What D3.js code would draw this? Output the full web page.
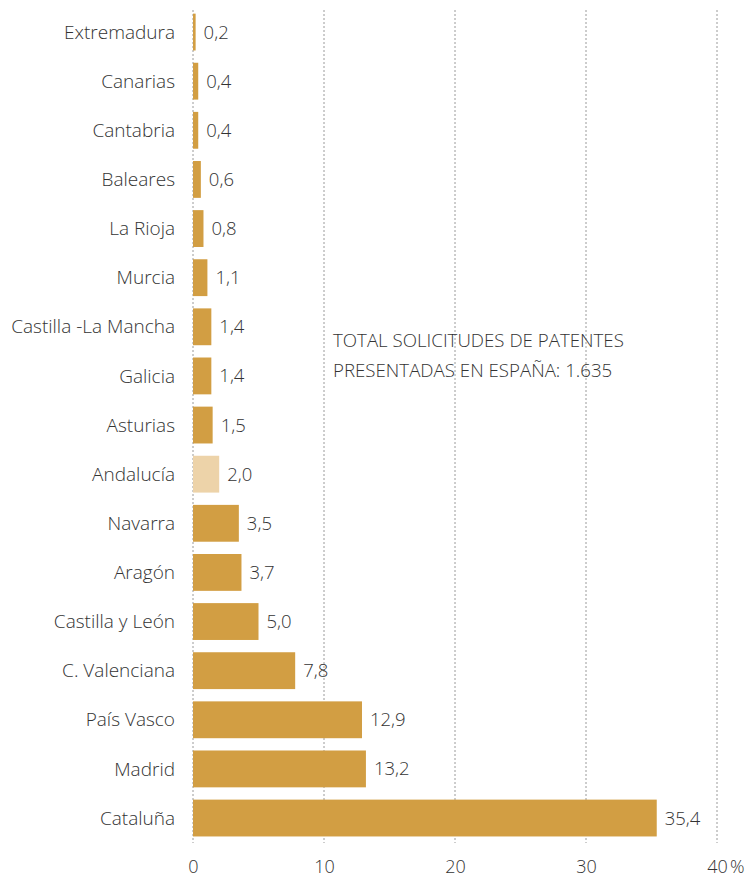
<!DOCTYPE html>
<html><head><meta charset="utf-8">
<script src="https://cdn.jsdelivr.net/npm/d3@7"></script>
<style>body{margin:0;background:#fff;} text{font-family:"Open Sans","Noto Sans",sans-serif;fill:#333;font-weight:300;}</style>
</head><body>
<svg id="c" width="752" height="878"></svg>
<script>
const categories = ["Extremadura","Canarias","Cantabria","Baleares","La Rioja","Murcia","Castilla -La Mancha","Galicia","Asturias","Andalucía","Navarra","Aragón","Castilla y León","C. Valenciana","País Vasco","Madrid","Cataluña"];
const values = [0.2,0.4,0.4,0.6,0.8,1.1,1.4,1.4,1.5,2.0,3.5,3.7,5.0,7.8,12.9,13.2,35.4];
const highlight = ["Andalucía"];
const xTicks = [0,10,20,30,40];
const annotation = ["TOTAL SOLICITUDES DE PATENTES","PRESENTADAS EN ESPAÑA: 1.635"];

const svg = d3.select("#c");
const x = d3.scaleLinear().domain([0,40]).range([193,717]);
const y = d3.scaleBand().domain(categories).range([7.5,842.6]).paddingInner(0.25).paddingOuter(0.125);

// grid
svg.append("g").selectAll("line").data(xTicks).join("line")
  .attr("x1",d=>x(d)).attr("x2",d=>x(d)).attr("y1",10).attr("y2",843)
  .attr("stroke","#9a9a9a").attr("stroke-width",1).attr("stroke-dasharray","2,2");

// bars
svg.append("g").selectAll("rect").data(categories).join("rect")
  .attr("x",x(0)).attr("y",d=>y(d))
  .attr("width",(d,i)=>x(values[i])-x(0)).attr("height",y.bandwidth())
  .attr("fill",d=>highlight.includes(d)?"#EDD3A9":"#D29E43");

// category labels
svg.append("g").selectAll("text").data(categories).join("text")
  .attr("x",175).attr("y",d=>y(d)+y.bandwidth()/2).attr("dy","0.35em")
  .attr("text-anchor","end").attr("font-size",19).text(d=>d);

// value labels
svg.append("g").selectAll("text").data(categories).join("text")
  .attr("x",(d,i)=>x(values[i])+8).attr("y",d=>y(d)+y.bandwidth()/2).attr("dy","0.35em")
  .attr("font-size",18.5).text((d,i)=>d3.format(".1f")(values[i]).replace(".",","));

// axis labels
const ax = d3.axisBottom(x).tickValues(xTicks).tickSize(0).tickPadding(0).tickFormat(d=>d);
const g = svg.append("g").attr("transform","translate(0,872.5)").call(ax);
g.select(".domain").remove();
g.selectAll("text").attr("font-size",18).attr("fill","#333").attr("dy","0")
  .style("font-family","'Open Sans','Noto Sans',sans-serif").style("font-weight",300);
svg.append("text").attr("x",x(40)+13).attr("y",872.5).attr("font-size",18).text("%");

// annotation
svg.append("g").selectAll("text").data(annotation).join("text")
  .attr("x",333).attr("y",(d,i)=>347+i*30).attr("font-size",18.7).text(d=>d);
</script>
</body></html>
